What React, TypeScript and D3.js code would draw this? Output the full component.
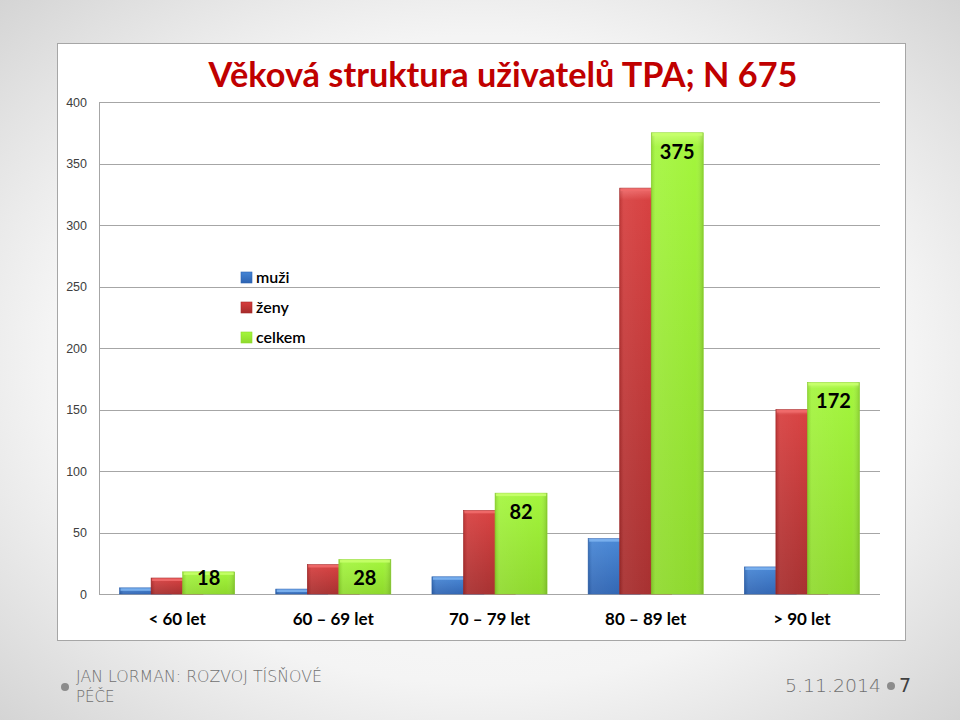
import React from "react";
import * as d3 from "d3";

const categories = ["< 60 let", "60 – 69 let", "70 – 79 let", "80 – 89 let", "> 90 let"];
const seriesNames = ["muži", "ženy", "celkem"];
const muzi = [5, 4, 14, 45, 22];
const zeny = [13, 24, 68, 330, 150];
const celkem = [18, 28, 82, 375, 172];
const yTicks = [0, 50, 100, 150, 200, 250, 300, 350, 400];
const title = "Věková struktura uživatelů TPA; N 675";
const footerLeft = ["JAN LORMAN: ROZVOJ TÍSŇOVÉ", "PÉČE"];
const footerDate = "5.11.2014";
const pageNo = "7";

const seriesValues = [muzi, zeny, celkem];
const seriesColors = [
  { top: "#7db3f0", mid: "#4484d4", bot: "#2d63b2", id: "gBlue" },
  { top: "#ef6a6a", mid: "#d63c3c", bot: "#a52b2b", id: "gRed" },
  { top: "#c6ff6a", mid: "#a3f53c", bot: "#8ed92c", id: "gGreen" },
];

export default function App() {
  const W = 960, H = 720;
  const left = 99, right = 880, top = 102, bottom = 594;
  const y = d3.scaleLinear().domain([0, 400]).range([bottom, top]);
  const x = d3.scaleBand<string>().domain(categories).range([left, right]).paddingInner(0.263).paddingOuter(0.1315);
  const barW = 52;
  const xs = d3.scaleLinear().domain([0, 2]).range([0, x.bandwidth() - barW]);
  const font = "Lato, 'Open Sans', 'Liberation Sans', sans-serif";

  return (
    <svg width={W} height={H} style={{ position: "absolute", left: 0, top: 0 }} fontFamily={font}>
      <defs>
        <radialGradient id="bg" cx="50%" cy="50%" r="75%">
          <stop offset="0%" stopColor="#ffffff" />
          <stop offset="60%" stopColor="#f4f4f4" />
          <stop offset="100%" stopColor="#cfcfcf" />
        </radialGradient>
        {seriesColors.map((c) => (
          <linearGradient key={c.id} id={c.id} x1="0" y1="0" x2="0" y2="1">
            <stop offset="0%" stopColor={c.top} />
            <stop offset="3%" stopColor={c.mid} />
            <stop offset="100%" stopColor={c.bot} />
          </linearGradient>
        ))}
        {seriesColors.map((c) => (
          <linearGradient key={c.id + "h"} id={c.id + "h"} x1="0" y1="0" x2="1" y2="0">
            <stop offset="0%" stopColor="#000" stopOpacity={0.12} />
            <stop offset="8%" stopColor="#fff" stopOpacity={0.08} />
            <stop offset="85%" stopColor="#fff" stopOpacity={0} />
            <stop offset="100%" stopColor="#000" stopOpacity={0.15} />
          </linearGradient>
        ))}
      </defs>
      <rect x={0} y={0} width={W} height={H} fill="url(#bg)" />
      <rect x={57.5} y={43.5} width={848} height={597} fill="#ffffff" stroke="#a6a6a6" strokeWidth={1} />

      <text x={503} y={87} textAnchor="middle" fontSize={34} fontWeight={700} fill="#c00000"
        textLength={589} lengthAdjust="spacingAndGlyphs">{title}</text>

      {yTicks.map((t) => (
        <g key={t}>
          <line x1={left} x2={right} y1={Math.round(y(t)) + 0.5} y2={Math.round(y(t)) + 0.5} stroke="#a6a6a6" strokeWidth={1} />
          <text x={87} y={y(t) + 4.5} textAnchor="end" fontSize={12.5} fill="#404040" fontFamily="'Liberation Sans', Arial, sans-serif">{t}</text>
        </g>
      ))}
      <line x1={left + 0.5} x2={left + 0.5} y1={top} y2={bottom} stroke="#a6a6a6" strokeWidth={1} />

      {categories.map((cat, ci) => (
        <g key={cat}>
          {seriesValues.map((vals, si) => {
            const bx = (x(cat) as number) + xs(si);
            const by = y(vals[ci]);
            const bh = bottom - by;
            const c = seriesColors[si];
            return (
              <g key={si}>
                <rect x={bx} y={by} width={barW} height={bh} fill={`url(#${c.id})`} stroke={c.bot} strokeWidth={0.6} />
                <rect x={bx} y={by} width={barW} height={bh} fill={`url(#${c.id}h)`} />
                <rect x={bx + 1} y={by + 0.5} width={barW - 2} height={Math.min(2.5, bh)} fill={c.top} opacity={0.9} />
              </g>
            );
          })}
          <text x={(x(cat) as number) + xs(2) + barW / 2} y={Math.min(y(celkem[ci]) + 26, bottom - 9)} textAnchor="middle" fontSize={20} fontWeight={700} fill="#000">
            {celkem[ci]}
          </text>
          <text x={(x(cat) as number) + x.bandwidth() / 2} y={625} textAnchor="middle" fontSize={17} fontWeight={700} fill="#000">
            {cat}
          </text>
        </g>
      ))}

      {seriesNames.map((n, i) => (
        <g key={n}>
          <rect x={241} y={272 + i * 30} width={11} height={11} fill={`url(#${seriesColors[i].id})`} stroke={seriesColors[i].bot} strokeWidth={0.6} />
          <text x={256} y={283 + i * 30} fontSize={16} fontWeight={600} fill="#000">{n}</text>
        </g>
      ))}

      <circle cx={65} cy={687} r={4} fill="#8c8c8c" />
      <text x={76} y={682} fontSize={15} fill="#707070" fontWeight={200} fontFamily="'DejaVu Sans', sans-serif" textLength={246} lengthAdjust="spacingAndGlyphs">{footerLeft[0]}</text>
      <text x={76} y={702} fontSize={15} fill="#707070" fontWeight={200} fontFamily="'DejaVu Sans', sans-serif">{footerLeft[1]}</text>
      <text x={881} y={692} textAnchor="end" fontSize={17} fill="#707070" fontWeight={200} fontFamily="'DejaVu Sans', sans-serif" textLength={96} lengthAdjust="spacingAndGlyphs">{footerDate}</text>
      <circle cx={891} cy={686} r={4} fill="#8c8c8c" />
      <text x={899} y={692} fontSize={19} fill="#404040" fontFamily="'DejaVu Sans', sans-serif">{pageNo}</text>
    </svg>
  );
}
